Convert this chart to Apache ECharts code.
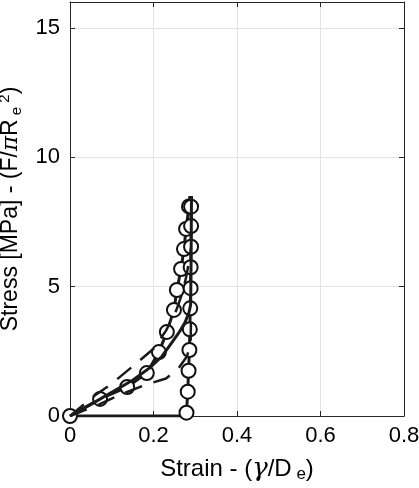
<!DOCTYPE html>
<html>
<head>
<meta charset="utf-8">
<script src="https://cdn.jsdelivr.net/npm/echarts@6/dist/echarts.min.js"></script>
<style>html,body{margin:0;padding:0;background:#fff}#c{width:419px;height:488px}</style>
</head>
<body>
<div id="c"></div>
<script>
// Measured data path (strain, stress)
var dataX = [0, 0.072, 0.137, 0.184, 0.213, 0.232, 0.249, 0.256, 0.266, 0.273, 0.278, 0.285, 0.287, 0.290, 0.290, 0.290, 0.289, 0.289, 0.288, 0.287, 0.286, 0.284, 0.282, 0.279, 0.279, 0];
var dataY = [0, 0.66, 1.12, 1.66, 2.47, 3.25, 4.10, 4.87, 5.68, 6.45, 7.23, 8.10, 8.50, 8.09, 7.34, 6.54, 5.75, 4.94, 4.16, 3.35, 2.55, 1.75, 0.94, 0.13, 0, 0];
// which points carry a circle marker
var markerOn = [1,1,1,1,1,1,1,1,1,1,1,1,0,1,1,1,1,1,1,1,1,1,1,1,0,0];
// Model fit (solid)
var fitX = [0, 0.05, 0.10, 0.15, 0.19, 0.22, 0.24, 0.26, 0.275, 0.285, 0.289, 0.290, 0.291];
var fitY = [0, 0.45, 0.92, 1.38, 1.85, 2.30, 2.75, 3.20, 3.60, 4.00, 4.30, 6.00, 8.50];
// Upper bound (dashed)
var upX = [0, 0.06, 0.10, 0.16, 0.20, 0.23, 0.255, 0.27, 0.28, 0.29];
var upY = [0, 0.80, 1.25, 2.05, 2.60, 3.30, 4.10, 4.80, 5.50, 6.50];
// Lower bound (dashed)
var loX = [0, 0.07, 0.12, 0.18, 0.23, 0.26, 0.28, 0.289, 0.29];
var loY = [0, 0.45, 0.82, 1.20, 1.45, 1.85, 2.30, 2.80, 4.00];
var xTicks = [0, 0.2, 0.4, 0.6, 0.8];
var yTicks = [0, 5, 10, 15];

function pairs(xs, ys) { return xs.map(function (x, i) { return [x, ys[i]]; }); }
var dataPts = dataX.map(function (x, i) {
  return { value: [x, dataY[i]], symbol: markerOn[i] ? 'circle' : 'none' };
});

var font = 'Liberation Sans, Arial, sans-serif';
var axisCol = '#262626';
var chart = echarts.init(document.getElementById('c'), null, { renderer: 'canvas' });
chart.setOption({
  animation: false,
  backgroundColor: '#fff',
  grid: { left: 70, right: 15, top: 2, bottom: 72, show: false, containLabel: false, outerBoundsMode: 'none' },
  xAxis: [{
    type: 'value', min: 0, max: 0.8, interval: 0.2,
    axisLine: { show: true, onZero: false, lineStyle: { color: axisCol, width: 1 } },
    axisTick: { show: true, inside: true, length: 5, lineStyle: { color: axisCol } },
    axisLabel: { color: '#000', fontFamily: font, fontSize: 22, margin: 9,
      formatter: function (v) { return xTicks.indexOf(Math.round(v * 10) / 10) >= 0 ? String(Math.round(v * 10) / 10) : ''; } },
    splitLine: { show: true, lineStyle: { color: '#e3e3e3', width: 1 } },
    name: '{a|Strain - (}{g|γ}{a|/D}{s| e}{a|)}',
    nameLocation: 'middle', nameGap: 40,
    nameTextStyle: { rich: {
      a: { fontFamily: font, fontSize: 24, color: '#000' },
      g: { fontFamily: 'DejaVu Serif, serif', fontStyle: 'italic', fontSize: 26, color: '#000' },
      s: { fontFamily: font, fontSize: 17, color: '#000', padding: [10, 0, 0, 0] }
    } }
  }, {
    type: 'value', min: 0, max: 0.8, interval: 0.2, position: 'top',
    axisLine: { show: true, onZero: false, lineStyle: { color: axisCol, width: 1 } },
    axisTick: { show: true, inside: true, length: 5, lineStyle: { color: axisCol } },
    axisLabel: { show: false }, splitLine: { show: false }
  }],
  yAxis: [{
    type: 'value', min: 0, max: 16, interval: 5,
    axisLine: { show: true, onZero: false, lineStyle: { color: axisCol, width: 1 } },
    axisTick: { show: true, inside: true, length: 5, lineStyle: { color: axisCol } },
    axisLabel: { color: '#000', fontFamily: font, fontSize: 22, margin: 10,
      formatter: function (v) { return yTicks.indexOf(v) >= 0 ? String(v) : ''; } },
    splitLine: { show: true, lineStyle: { color: '#e3e3e3', width: 1 } },
    name: '{a|Stress [MPa] - (F/}{g|π}{a|R}{s| e}{p| 2}{a|)}',
    nameLocation: 'middle', nameGap: 37, nameRotate: 90,
    nameTextStyle: { rich: {
      a: { fontFamily: font, fontSize: 23, color: '#000' },
      g: { fontFamily: 'DejaVu Serif, serif', fontStyle: 'italic', fontSize: 23, color: '#000' },
      s: { fontFamily: font, fontSize: 15, color: '#000', padding: [12, 0, 0, 0] },
      p: { fontFamily: font, fontSize: 15, color: '#000', padding: [0, 0, 12, 0] }
    } }
  }, {
    type: 'value', min: 0, max: 16, interval: 5, position: 'right',
    axisLine: { show: true, onZero: false, lineStyle: { color: axisCol, width: 1 } },
    axisTick: { show: true, inside: true, length: 5, lineStyle: { color: axisCol } },
    axisLabel: { show: false }, splitLine: { show: false }
  }],
  series: [{
    type: 'line', data: dataPts, symbolSize: 14, z: 2,
    lineStyle: { color: '#1a1a1a', width: 3 },
    itemStyle: { color: '#fff', borderColor: '#111', borderWidth: 2 }
  }, {
    type: 'line', data: pairs(fitX, fitY), showSymbol: false, z: 3,
    lineStyle: { color: '#1a1a1a', width: 3 }
  }, {
    type: 'line', data: pairs(upX, upY), showSymbol: false, z: 3,
    lineStyle: { color: '#1a1a1a', width: 2.5, type: [18, 12] }
  }, {
    type: 'line', data: pairs(loX, loY), showSymbol: false, z: 3,
    lineStyle: { color: '#1a1a1a', width: 2.5, type: [18, 12] }
  }]
});
</script>
</body>
</html>
